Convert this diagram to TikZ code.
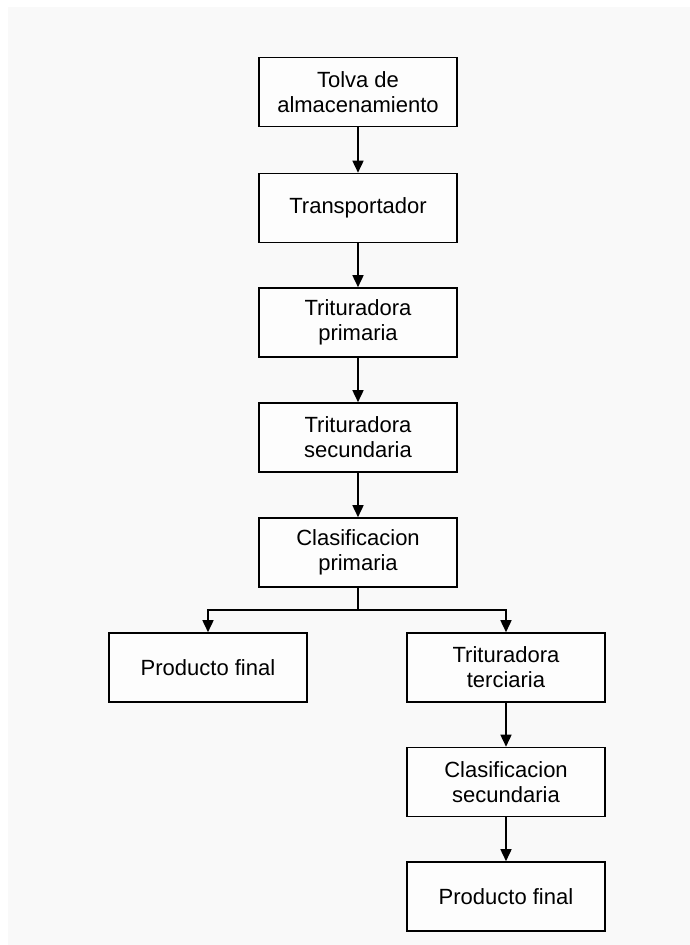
\documentclass[tikz,border=0pt]{standalone}
\usepackage{fontspec}
\setmainfont{Liberation Sans}
\usetikzlibrary{arrows.meta}
\definecolor{fcback}{HTML}{F9F9F9}
\tikzset{
  fcbox/.style={draw=black, fill=white!60!fcback, line width=1.6pt, minimum width=198pt, minimum height=69pt,
    align=center, inner sep=0pt, font=\fontsize{22}{25}\selectfont},
  fcarrow/.style={line width=1.6pt, draw=black, -{Triangle[width=11pt,length=12pt]}},
  fcline/.style={line width=1.6pt, draw=black},
}
\begin{document}
\begin{tikzpicture}[x=1pt, y=-1pt]
\useasboundingbox (0,0) rectangle (690,945);
\fill[fcback] (8,7) rectangle (690,945);
\node[fcbox] (tolva) at (358,92) {Tolva de\\almacenamiento};
\node[fcbox] (trans) at (358,208) {Transportador};
\node[fcbox] (trip) at (358,322.5) {Trituradora\\primaria};
\node[fcbox] (tris) at (358,437.5) {Trituradora\\secundaria};
\node[fcbox] (clap) at (358,552.5) {Clasificacion\\primaria};
\node[fcbox] (prodA) at (208,667.5) {Producto final};
\node[fcbox] (trit) at (506,667.5) {Trituradora\\terciaria};
\node[fcbox] (clas) at (506,782) {Clasificacion\\secundaria};
\node[fcbox] (prodB) at (506,896.5) {Producto final};
\coordinate (split) at (358,610);
\draw[fcarrow] (tolva) -- (trans);
\draw[fcarrow] (trans) -- (trip);
\draw[fcarrow] (trip) -- (tris);
\draw[fcarrow] (tris) -- (clap);
\draw[fcline] (clap) -- (split);
\draw[fcarrow] (split) -| (prodA);
\draw[fcarrow] (split) -| (trit);
\draw[fcarrow] (trit) -- (clas);
\draw[fcarrow] (clas) -- (prodB);
\end{tikzpicture}
\end{document}
